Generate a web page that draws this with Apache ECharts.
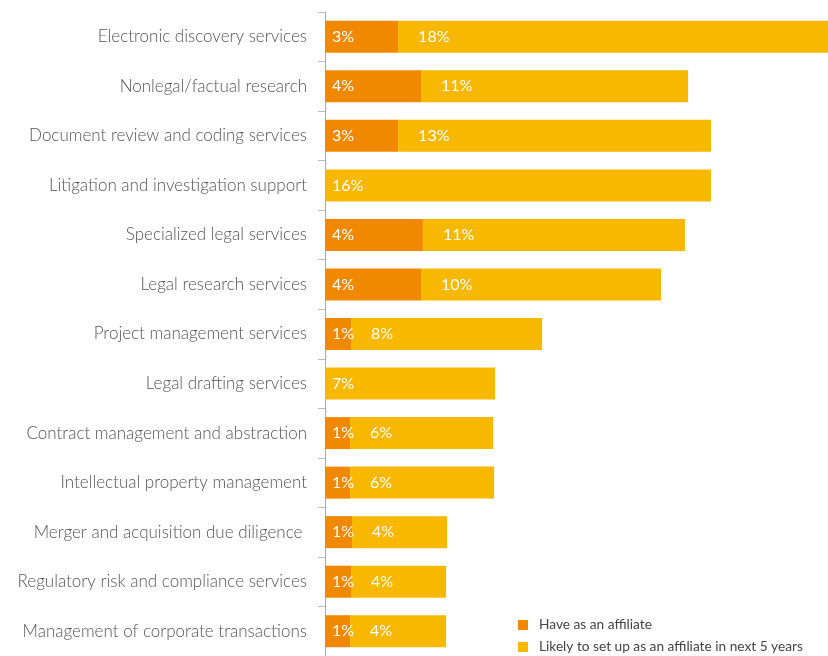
<!DOCTYPE html>
<html>
<head>
<meta charset="utf-8">
<script src="https://cdn.jsdelivr.net/npm/echarts@6/dist/echarts.min.js"></script>
<style>
html,body{margin:0;padding:0;background:#fff;}
#chart{width:828px;height:656px;}
</style>
</head>
<body>
<div id="chart"></div>
<script>
const categories = [
  "Electronic discovery services",
  "Nonlegal/factual research",
  "Document review and coding services",
  "Litigation and investigation support",
  "Specialized legal services",
  "Legal research services",
  "Project management services",
  "Legal drafting services",
  "Contract management and abstraction",
  "Intellectual property management",
  "Merger and acquisition due diligence ",
  "Regulatory risk and compliance services",
  "Management of corporate transactions"
];
const haveAffiliate = [3.03, 3.98, 3.03, 0, 4.06, 3.98, 1.08, 0, 1.04, 1.04, 1.12, 1.08, 1.04];
const likelyAffiliate = [18, 11.07, 12.97, 16, 10.86, 9.95, 7.92, 7.05, 5.93, 5.97, 3.94, 3.94, 3.98];
const seriesNames = ["Have as an affiliate", "Likely to set up as an affiliate in next 5 years"];

const FONT = "Lato";
const labelBase = {
  show: true,
  position: "insideLeft",
  color: "#fff",
  fontFamily: FONT,
  fontWeight: 400,
  fontSize: 16,
  formatter: p => Math.round(p.value) + "%"
};
const legendBase = {
  orient: "vertical",
  left: 513,
  itemWidth: 10, itemHeight: 10,
  icon: "rect",
  textStyle: { fontSize: 13.7, color: "#444444", fontFamily: FONT, padding: [0, 0, 0, 6] }
};

const chart = echarts.init(document.getElementById("chart"));
chart.setOption({
  animation: false,
  textStyle: { fontFamily: FONT },
  grid: { left: 325, right: 0, top: 12, bottom: 0, containLabel: false },
  xAxis: {
    type: "value", min: 0, max: 20.85, show: false
  },
  yAxis: {
    type: "category",
    data: categories,
    inverse: true,
    axisLine: { show: true, lineStyle: { color: "#aaaaaa", width: 1 } },
    axisTick: { show: true, length: 7, lineStyle: { color: "#bbbbbb" } },
    axisLabel: { margin: 18, color: "#555555", fontSize: 17, fontFamily: FONT, fontWeight: 300 }
  },
  legend: [
    Object.assign({}, legendBase, { top: 613, data: [seriesNames[0]] }),
    Object.assign({}, legendBase, { top: 635, data: [seriesNames[1]] })
  ],
  series: [
    {
      name: seriesNames[0], type: "bar", stack: "a", barWidth: 32,
      itemStyle: { color: "#F08800" },
      label: Object.assign({}, labelBase, { distance: 7 }),
      data: haveAffiliate.map(v => ({ value: v, label: { show: v > 0 } }))
    },
    {
      name: seriesNames[1], type: "bar", stack: "a", barWidth: 32,
      itemStyle: { color: "#F9B800" },
      label: Object.assign({}, labelBase, { distance: 20 }),
      data: likelyAffiliate.map((v, i) => ({ value: v, label: { distance: haveAffiliate[i] > 0 ? 20 : 7 } }))
    }
  ]
});
</script>
</body>
</html>
